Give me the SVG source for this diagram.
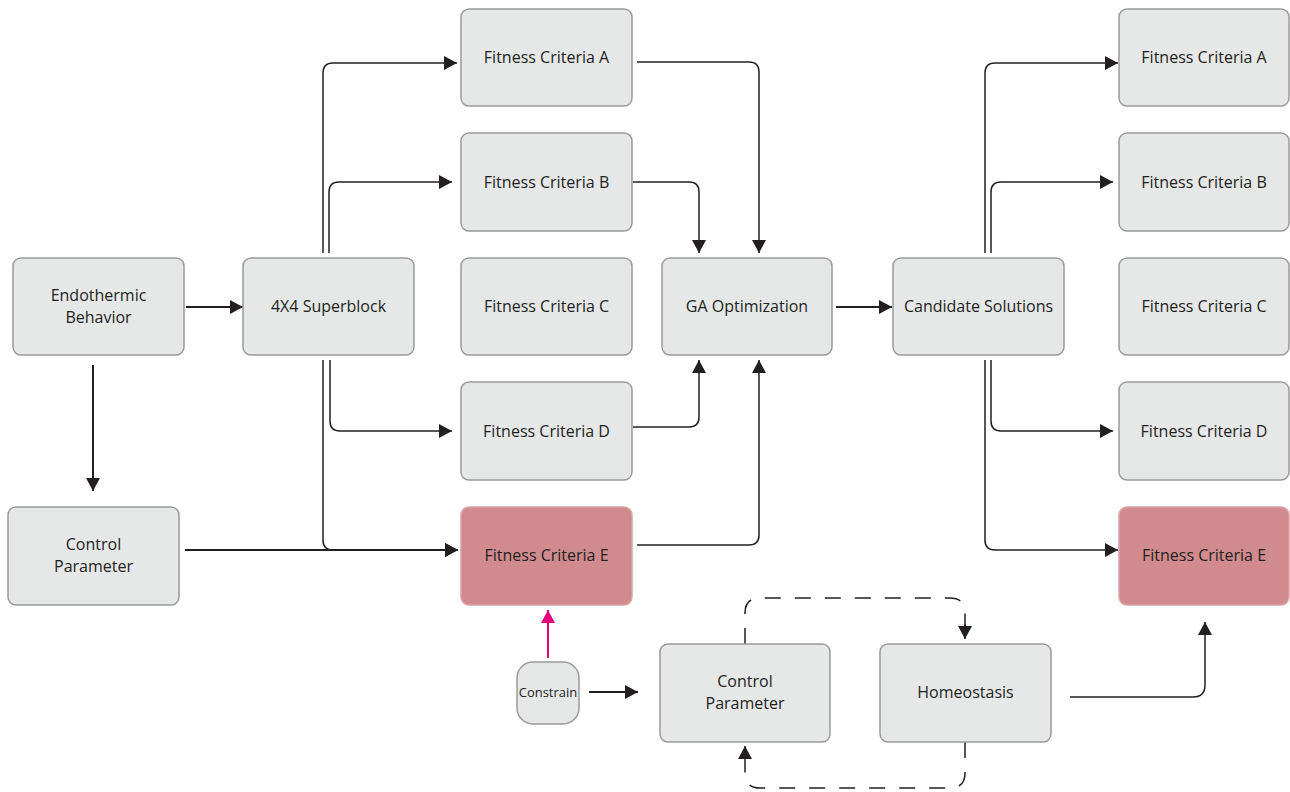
<svg xmlns="http://www.w3.org/2000/svg" width="1290" height="792" viewBox="0 0 1290 792">
  <style>
    .box { fill: #e6e7e7; stroke: #9a9a9a; stroke-width: 1.5; }
    .hot { fill: #d18b8e; stroke: #dba3a5; stroke-width: 1.5; }
    .lbl { font-family: "Open Sans", "Liberation Sans", sans-serif; font-size: 16px; fill: #231f20; text-anchor: middle; }
    .small { font-size: 13px; }
    .wire { fill: none; stroke: #231f20; stroke-width: 1.5; marker-end: url(#arrow); }
    .thick { stroke-width: 2; }
    .dash { fill: none; stroke: #231f20; stroke-width: 1.5; stroke-dasharray: 16 14; }
    .pink { fill: none; stroke: #e6007e; stroke-width: 2; marker-end: url(#arrowPink); }
  </style>
  <defs>
    <marker id="arrow" markerUnits="userSpaceOnUse" markerWidth="13" markerHeight="14" refX="13" refY="7" orient="auto">
      <path d="M0,0 L13,7 L0,14 z" fill="#231f20"/>
    </marker>
    <marker id="arrowPink" markerUnits="userSpaceOnUse" markerWidth="13" markerHeight="14" refX="13" refY="7" orient="auto">
      <path d="M0,0 L13,7 L0,14 z" fill="#e6007e"/>
    </marker>
  </defs>
  <rect width="1290" height="792" fill="#ffffff"/>

  <!-- connectors -->
  <g id="connectors">
    <path class="wire thick" d="M186,307 H243"/>
    <path class="wire thick" d="M93,365 V491"/>
    <path class="wire thick" d="M185,550 H458"/>
    <path class="wire" d="M323,253 V73 Q323,63 333,63 H457"/>
    <path class="wire" d="M329,253 V192 Q329,182 339,182 H452"/>
    <path class="wire" d="M330,360 V421 Q330,431 340,431 H452"/>
    <path class="wire" d="M323,360 V540 Q323,550 333,550 H458"/>
    <path class="wire" d="M637,62 H749 Q759,62 759,72 V253"/>
    <path class="wire" d="M633,182 H689 Q699,182 699,192 V253"/>
    <path class="wire" d="M633,427 H689 Q699,427 699,417 V360"/>
    <path class="wire" d="M637,545 H749 Q759,545 759,535 V360"/>
    <path class="wire thick" d="M836,307 H892"/>
    <path class="wire" d="M985,253 V73 Q985,63 995,63 H1118"/>
    <path class="wire" d="M991,253 V192 Q991,182 1001,182 H1113"/>
    <path class="wire" d="M991,360 V421 Q991,431 1001,431 H1113"/>
    <path class="wire" d="M985,360 V540 Q985,550 995,550 H1118"/>
    <path class="wire thick" d="M589,692 H638"/>
    <path class="pink" d="M548,658 V610"/>
    <path class="wire" d="M1070,697 H1193 Q1205,697 1205,685 V622"/>
    <!-- feedback loop between the two lower boxes -->
    <path class="dash" d="M745,644 V613 Q745,598 760,598 H950 Q965,598 965,613 V626"/>
    <path class="wire" d="M965,624 V639"/>
    <path class="dash" d="M965,742 V773 Q965,788 950,788 H760 Q745,788 745,773 V762"/>
    <path class="wire" d="M745,762 V746"/>
  </g>

  <g id="endothermic">
    <rect class="box" x="13" y="258" width="171" height="97" rx="8"/>
    <text class="lbl" x="98.5" y="301">Endothermic</text>
    <text class="lbl" x="98.5" y="323">Behavior</text>
  </g>
  <g id="superblock">
    <rect class="box" x="243" y="258" width="171" height="97" rx="8"/>
    <text class="lbl" x="328.5" y="312">4X4 Superblock</text>
  </g>
  <g id="control-left">
    <rect class="box" x="8" y="507" width="171" height="98" rx="8"/>
    <text class="lbl" x="93.5" y="550">Control</text>
    <text class="lbl" x="93.5" y="572">Parameter</text>
  </g>

  <g id="fit-a1">
    <rect class="box" x="461" y="9" width="171" height="97" rx="8"/>
    <text class="lbl" x="546.5" y="63">Fitness Criteria A</text>
  </g>
  <g id="fit-b1">
    <rect class="box" x="461" y="133" width="171" height="98" rx="8"/>
    <text class="lbl" x="546.5" y="188">Fitness Criteria B</text>
  </g>
  <g id="fit-c1">
    <rect class="box" x="461" y="258" width="171" height="97" rx="8"/>
    <text class="lbl" x="546.5" y="312">Fitness Criteria C</text>
  </g>
  <g id="fit-d1">
    <rect class="box" x="461" y="382" width="171" height="98" rx="8"/>
    <text class="lbl" x="546.5" y="437">Fitness Criteria D</text>
  </g>
  <g id="fit-e1">
    <rect class="hot" x="461" y="507" width="171" height="98" rx="8"/>
    <text class="lbl" x="546.5" y="561">Fitness Criteria E</text>
  </g>

  <g id="ga">
    <rect class="box" x="662" y="258" width="170" height="97" rx="8"/>
    <text class="lbl" x="747" y="312">GA Optimization</text>
  </g>
  <g id="candidates">
    <rect class="box" x="893" y="258" width="171" height="97" rx="8"/>
    <text class="lbl" x="978.5" y="312">Candidate Solutions</text>
  </g>

  <g id="fit-a2">
    <rect class="box" x="1119" y="9" width="170" height="97" rx="8"/>
    <text class="lbl" x="1204" y="63">Fitness Criteria A</text>
  </g>
  <g id="fit-b2">
    <rect class="box" x="1119" y="133" width="170" height="98" rx="8"/>
    <text class="lbl" x="1204" y="188">Fitness Criteria B</text>
  </g>
  <g id="fit-c2">
    <rect class="box" x="1119" y="258" width="170" height="97" rx="8"/>
    <text class="lbl" x="1204" y="312">Fitness Criteria C</text>
  </g>
  <g id="fit-d2">
    <rect class="box" x="1119" y="382" width="170" height="98" rx="8"/>
    <text class="lbl" x="1204" y="437">Fitness Criteria D</text>
  </g>
  <g id="fit-e2">
    <rect class="hot" x="1119" y="507" width="170" height="98" rx="8"/>
    <text class="lbl" x="1204" y="561">Fitness Criteria E</text>
  </g>

  <g id="constrain">
    <rect class="box" x="517" y="662" width="62" height="62" rx="16"/>
    <text class="lbl small" x="548" y="697">Constrain</text>
  </g>
  <g id="control-bottom">
    <rect class="box" x="660" y="644" width="170" height="98" rx="8"/>
    <text class="lbl" x="745" y="687">Control</text>
    <text class="lbl" x="745" y="709">Parameter</text>
  </g>
  <g id="homeostasis">
    <rect class="box" x="880" y="644" width="171" height="98" rx="8"/>
    <text class="lbl" x="965.5" y="698">Homeostasis</text>
  </g>
</svg>
